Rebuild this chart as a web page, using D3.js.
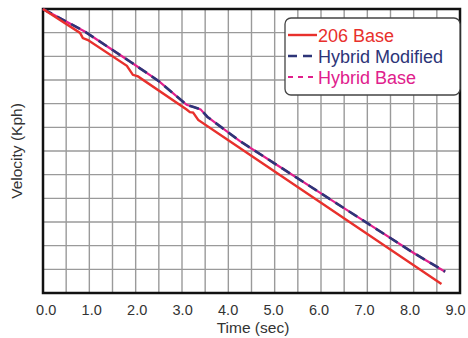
<!DOCTYPE html>
<html>
<head>
<meta charset="utf-8">
<script src="https://cdn.jsdelivr.net/npm/d3@7"></script>
<style>
  html, body { margin: 0; padding: 0; background: #fff; }
  svg { display: block; font-family: "Liberation Sans", Arial, sans-serif; }
</style>
</head>
<body>
<div id="chart"></div>
<script>
// values (time in sec, velocity in kph)
const base206Time = [0, 0.8, 0.86, 0.97, 1.81, 1.94, 2.05, 3.10, 3.17, 3.24, 3.35, 4.0, 5.0, 6.0, 7.0, 8.0, 8.6];
const base206Vel = [120, 109.9, 107.7, 106.9, 96.0, 92.2, 91.5, 77.5, 76.4, 76.2, 73.1, 64.5, 51.3, 38.1, 24.9, 11.7, 3.8];

const hybridModTime = [0, 0.9, 1.9, 2.5, 3.1, 3.25, 3.4, 3.55, 4.25, 5.0, 6.0, 7.0, 8.0, 8.68];
const hybridModVel = [120, 110.5, 97.5, 89.5, 79.5, 78.6, 77.6, 74.4, 64.2, 54.7, 42.1, 29.5, 16.9, 9.0];

const hybridBaseTime = [0, 0.9, 1.9, 2.5, 3.1, 3.25, 3.4, 3.55, 4.25, 5.0, 6.0, 7.0, 8.0, 8.68];
const hybridBaseVel = [120, 110.5, 97.5, 89.5, 79.5, 78.6, 77.6, 74.4, 64.2, 54.7, 42.1, 29.5, 16.9, 9.0];

const xTickLabels = ['0.0', '1.0', '2.0', '3.0', '4.0', '5.0', '6.0', '7.0', '8.0', '9.0'];
const seriesNames = ['206 Base', 'Hybrid Modified', 'Hybrid Base'];

const width = 468, height = 338;
const margin = { top: 9, right: 8, bottom: 45, left: 43 };
const innerW = width - margin.left - margin.right;
const innerH = height - margin.top - margin.bottom;

const red = '#e8302c', navy = '#2d3578', pink = '#e0208c';

const svg = d3.select('#chart').append('svg')
  .attr('width', width)
  .attr('height', height);

const g = svg.append('g').attr('transform', `translate(${margin.left},${margin.top})`);

const x = d3.scaleLinear().domain([0, 9]).range([0, innerW]);
const y = d3.scaleLinear().domain([0, 120]).range([innerH, 0]);
// the labels in the original sit a bit off the grid lines
const xLabel = d3.scaleLinear().domain([0, 9]).range([2.7, 412]);

// grid
g.append('g')
  .selectAll('line')
  .data(d3.range(0, 9.01, 0.5))
  .join('line')
  .attr('x1', d => x(d)).attr('x2', d => x(d))
  .attr('y1', 0).attr('y2', innerH)
  .attr('stroke', '#9a9a9a').attr('stroke-width', 1.4);

g.append('g')
  .selectAll('line')
  .data(d3.range(0, 121, 10))
  .join('line')
  .attr('x1', 0).attr('x2', innerW)
  .attr('y1', d => y(d)).attr('y2', d => y(d))
  .attr('stroke', '#9a9a9a').attr('stroke-width', 1.4);

// x tick labels
const xAxis = d3.axisBottom(xLabel)
  .tickValues(xTickLabels.map(Number))
  .tickFormat((d, i) => xTickLabels[i])
  .tickSize(0)
  .tickPadding(0);
const xg = g.append('g').attr('transform', `translate(0,${innerH})`).call(xAxis);
xg.select('.domain').remove();
xg.selectAll('text')
  .attr('dy', null)
  .attr('y', 315 - margin.top - innerH)
  .attr('font-size', 14.5)
  .attr('fill', '#333')
  .attr('font-family', '"Liberation Sans", Arial, sans-serif');

// frame
g.append('rect')
  .attr('x', 0).attr('y', 0)
  .attr('width', innerW).attr('height', innerH)
  .attr('fill', 'none')
  .attr('stroke', '#111').attr('stroke-width', 2.5);

// lines
const line = d3.line().x(d => x(d[0])).y(d => y(d[1]));

const plot = g.append('g');
plot.append('path')
  .datum(d3.zip(hybridBaseTime, hybridBaseVel))
  .attr('d', line)
  .attr('fill', 'none')
  .attr('stroke', pink).attr('stroke-width', 2.2);

plot.append('path')
  .datum(d3.zip(hybridModTime, hybridModVel))
  .attr('d', line)
  .attr('fill', 'none')
  .attr('stroke', navy).attr('stroke-width', 2.6)
  .attr('stroke-dasharray', '10,6');

plot.append('path')
  .datum(d3.zip(base206Time, base206Vel))
  .attr('d', line)
  .attr('fill', 'none')
  .attr('stroke', red).attr('stroke-width', 2.4);

// axis titles
svg.append('text')
  .attr('x', 253)
  .attr('y', 333)
  .attr('text-anchor', 'middle')
  .attr('font-size', 15.5)
  .attr('fill', '#333')
  .text('Time (sec)');

svg.append('text')
  .attr('transform', `translate(22,${margin.top + innerH / 2}) rotate(-90)`)
  .attr('text-anchor', 'middle')
  .attr('font-size', 15.5)
  .attr('fill', '#333')
  .text('Velocity (Kph)');

// legend
const legend = svg.append('g').attr('transform', 'translate(285,18)');
legend.append('rect')
  .attr('width', 175).attr('height', 77)
  .attr('rx', 6)
  .attr('fill', '#fff')
  .attr('stroke', '#444').attr('stroke-width', 1.3);

const legendStyles = [
  { color: red, dash: null, w: 2.4 },
  { color: navy, dash: '9,6', w: 2.6 },
  { color: pink, dash: '5,5', w: 2.2 }
];

const rows = legend.selectAll('g.row')
  .data(seriesNames)
  .join('g')
  .attr('class', 'row')
  .attr('transform', (d, i) => `translate(0,${17 + i * 21})`);

rows.append('line')
  .attr('x1', 3).attr('x2', 32)
  .attr('y1', 0).attr('y2', 0)
  .attr('stroke', (d, i) => legendStyles[i].color)
  .attr('stroke-width', (d, i) => legendStyles[i].w)
  .attr('stroke-dasharray', (d, i) => legendStyles[i].dash);

rows.append('text')
  .attr('x', 33)
  .attr('y', 6.5)
  .attr('font-size', 18)
  .attr('fill', (d, i) => legendStyles[i].color)
  .text(d => d);
</script>
</body>
</html>
